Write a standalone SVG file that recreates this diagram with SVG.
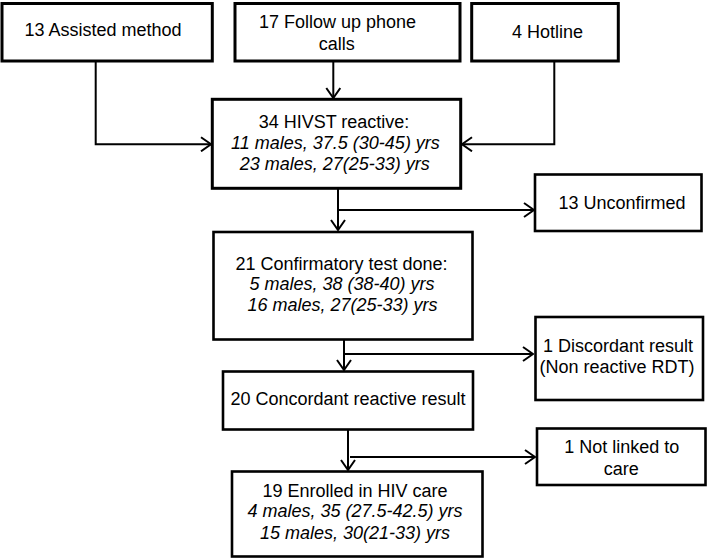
<svg xmlns="http://www.w3.org/2000/svg" width="709" height="560" viewBox="0 0 709 560">
<style>
  .box { fill: #fff; stroke: #000; stroke-width: 2.6; }
  .boxt { fill: #fff; stroke: #000; stroke-width: 3; }
  .t { font-family: "Liberation Sans", Arial, sans-serif; font-size: 18px; fill: #000; text-anchor: middle; }
  .i { font-style: italic; }
  .ln { fill: none; stroke: #000; stroke-width: 2; }
</style>
<defs>
  <marker id="arr" viewBox="0 0 12 16" refX="11" refY="8" markerWidth="12" markerHeight="16" markerUnits="userSpaceOnUse" orient="auto">
    <path d="M1,1 L11,8 L1,15" fill="none" stroke="#000" stroke-width="2"/>
  </marker>
</defs>
<rect width="709" height="560" fill="#fff"/>
<g id="connectors">
  <path class="ln" d="M95.7,61 V144.3 H211" marker-end="url(#arr)"/>
  <path class="ln" d="M333.3,61 V98" marker-end="url(#arr)"/>
  <path class="ln" d="M554.3,61 V144.3 H462" marker-end="url(#arr)"/>
  <path class="ln" d="M338,188 V230" marker-end="url(#arr)"/>
  <path class="ln" d="M338,210 H534" marker-end="url(#arr)"/>
  <path class="ln" d="M344,340 V370" marker-end="url(#arr)"/>
  <path class="ln" d="M344,354 H533" marker-end="url(#arr)"/>
  <path class="ln" d="M348,430 V470" marker-end="url(#arr)"/>
  <path class="ln" d="M350,457 H535" marker-end="url(#arr)"/>
</g>
<g id="assisted">
  <rect class="boxt" x="2" y="3.5" width="210.3" height="57.5"/>
  <text class="t" x="103" y="36">13 Assisted method</text>
</g>
<g id="followup">
  <rect class="boxt" x="235" y="3.5" width="225" height="57.5"/>
  <text class="t" x="337.5" y="28.3">17 Follow up phone</text>
  <text class="t" x="336.7" y="49.5">calls</text>
</g>
<g id="hotline">
  <rect class="boxt" x="471.7" y="3.5" width="146.6" height="57.5"/>
  <text class="t" x="547.5" y="38.3">4 Hotline</text>
</g>
<g id="hivst">
  <rect class="boxt" x="212.3" y="99.3" width="248.4" height="89"/>
  <text class="t" x="334" y="128.3">34 HIVST reactive:</text>
  <text class="t i" x="335.5" y="149">11 males, 37.5 (30-45) yrs</text>
  <text class="t i" x="334.7" y="170">23 males, 27(25-33) yrs</text>
</g>
<g id="unconfirmed">
  <rect class="box" x="535" y="174.5" width="166.5" height="56.5"/>
  <text class="t" x="622" y="209.3">13 Unconfirmed</text>
</g>
<g id="confirmatory">
  <rect class="box" x="213.5" y="232" width="259" height="107.5"/>
  <text class="t" x="341.5" y="270">21 Confirmatory test done:</text>
  <text class="t i" x="342" y="290">5 males, 38 (38-40) yrs</text>
  <text class="t i" x="342.5" y="310.7">16 males, 27(25-33) yrs</text>
</g>
<g id="discordant">
  <rect class="box" x="535.5" y="317" width="167.5" height="83"/>
  <text class="t" x="618" y="351.7">1 Discordant result</text>
  <text class="t" x="617" y="373.3">(Non reactive RDT)</text>
</g>
<g id="concordant">
  <rect class="box" x="223" y="371.5" width="250" height="58"/>
  <text class="t" x="348" y="405">20 Concordant reactive result</text>
</g>
<g id="notlinked">
  <rect class="box" x="537" y="428.5" width="168.5" height="56.5"/>
  <text class="t" x="621.7" y="453.3">1 Not linked to</text>
  <text class="t" x="621.3" y="475">care</text>
</g>
<g id="enrolled">
  <rect class="box" x="232" y="471.5" width="250.5" height="85"/>
  <text class="t" x="355" y="497.3">19 Enrolled in HIV care</text>
  <text class="t i" x="355" y="517.3">4 males, 35 (27.5-42.5) yrs</text>
  <text class="t i" x="355" y="539.3">15 males, 30(21-33) yrs</text>
</g>
</svg>
